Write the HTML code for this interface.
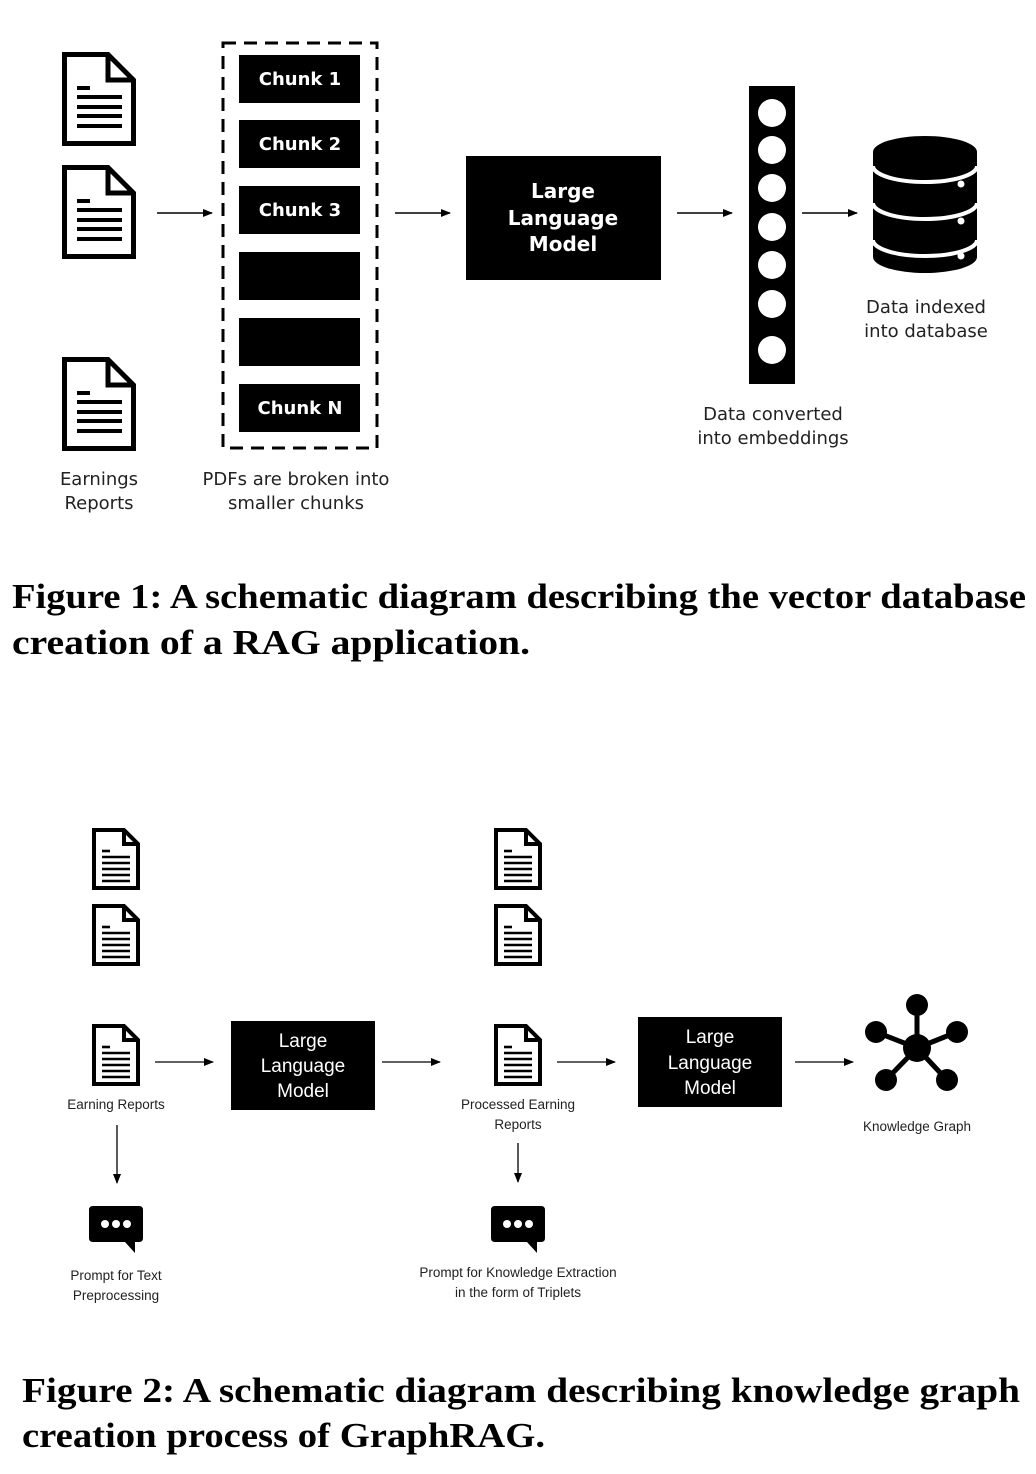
<!DOCTYPE html>
<html><head><meta charset="utf-8"><style>
html,body{margin:0;padding:0;background:#fff;width:1036px;height:1474px;overflow:hidden}
svg{display:block}
.s{font-family:"DejaVu Sans","Liberation Sans",sans-serif;fill:#222}
.cap{font-family:"Liberation Serif",serif;font-weight:bold;font-size:35px;fill:#000}
.w{font-family:"DejaVu Sans","Liberation Sans",sans-serif;font-weight:bold;fill:#fff}
.c{font-family:"Liberation Sans",sans-serif;fill:#222}
.cw{font-family:"Liberation Sans",sans-serif;fill:#fff}
</style></head><body>
<svg width="1036" height="1474" viewBox="0 0 1036 1474" xmlns="http://www.w3.org/2000/svg">
<defs>
<g id="doc">
<path d="M2.5,2.5 H46 L71.5,28 V91.5 H2.5 Z" fill="#fff" stroke="#000" stroke-width="5" stroke-linejoin="miter"/>
<path d="M46,2.5 V28 H71.5" fill="none" stroke="#000" stroke-width="5"/>
<g stroke="#000" stroke-width="4"><line x1="15" y1="36" x2="28" y2="36"/><line x1="15" y1="45" x2="60" y2="45"/><line x1="15" y1="55" x2="60" y2="55"/><line x1="15" y1="64" x2="60" y2="64"/><line x1="15" y1="74" x2="60" y2="74"/></g>
</g>
<g id="doc2">
<path d="M2,2 H32 L46,16 V60 H2 Z" fill="#fff" stroke="#000" stroke-width="4"/>
<path d="M32,2 V16 H46" fill="none" stroke="#000" stroke-width="4"/>
<g stroke="#000" stroke-width="2.6"><line x1="10" y1="23" x2="18" y2="23"/><line x1="10" y1="29" x2="38" y2="29"/><line x1="10" y1="35" x2="38" y2="35"/><line x1="10" y1="41" x2="38" y2="41"/><line x1="10" y1="47" x2="38" y2="47"/><line x1="10" y1="53" x2="38" y2="53"/></g>
</g>
<marker id="ah" markerWidth="10" markerHeight="8" refX="9" refY="4" orient="auto" markerUnits="userSpaceOnUse"><path d="M0,0 L10,4 L0,8 Z" fill="#000"/></marker>
<g id="chat"><path d="M4,0 H50 Q54,0 54,4 V32 Q54,36 50,36 H46 V47 L36,36 H4 Q0,36 0,32 V4 Q0,0 4,0 Z" fill="#000"/><circle cx="16" cy="18" r="4" fill="#fff"/><circle cx="27" cy="18" r="4" fill="#fff"/><circle cx="38" cy="18" r="4" fill="#fff"/></g>
</defs>

<!-- Figure 1 -->
<use href="#doc" x="62" y="52"/>
<use href="#doc" x="62" y="165"/>
<use href="#doc" x="62" y="357"/>
<text class="s" font-size="18" text-anchor="middle" x="99" y="485">Earnings</text>
<text class="s" font-size="18" text-anchor="middle" x="99" y="509">Reports</text>

<line x1="157" y1="213" x2="212" y2="213" stroke="#000" stroke-width="1.5" marker-end="url(#ah)"/>
<rect x="223" y="43" width="154" height="405" fill="none" stroke="#000" stroke-width="3" stroke-dasharray="13,8"/>
<rect x="239" y="55" width="121" height="48" fill="#000"/>
<rect x="239" y="120" width="121" height="48" fill="#000"/>
<rect x="239" y="186" width="121" height="48" fill="#000"/>
<rect x="239" y="252" width="121" height="48" fill="#000"/>
<rect x="239" y="318" width="121" height="48" fill="#000"/>
<rect x="239" y="384" width="121" height="48" fill="#000"/>
<text class="w" font-size="18" text-anchor="middle" x="300" y="85">Chunk 1</text>
<text class="w" font-size="18" text-anchor="middle" x="300" y="150">Chunk 2</text>
<text class="w" font-size="18" text-anchor="middle" x="300" y="216">Chunk 3</text>
<text class="w" font-size="18" text-anchor="middle" x="300" y="414">Chunk N</text>
<text class="s" font-size="18" text-anchor="middle" x="296" y="485">PDFs are broken into</text>
<text class="s" font-size="18" text-anchor="middle" x="296" y="509">smaller chunks</text>

<line x1="395" y1="213" x2="450" y2="213" stroke="#000" stroke-width="1.5" marker-end="url(#ah)"/>
<rect x="466" y="156" width="195" height="124" fill="#000"/>
<text class="w" font-size="20" text-anchor="middle" x="563" y="198">Large</text>
<text class="w" font-size="20" text-anchor="middle" x="563" y="225">Language</text>
<text class="w" font-size="20" text-anchor="middle" x="563" y="251">Model</text>

<line x1="677" y1="213" x2="732" y2="213" stroke="#000" stroke-width="1.5" marker-end="url(#ah)"/>
<rect x="749" y="86" width="46" height="298" fill="#000"/>
<g fill="#fff"><circle cx="772" cy="113" r="14"/><circle cx="772" cy="150" r="14"/><circle cx="772" cy="188" r="14"/><circle cx="772" cy="227" r="14"/><circle cx="772" cy="265" r="14"/><circle cx="772" cy="304" r="14"/><circle cx="772" cy="350" r="14"/></g>
<text class="s" font-size="18" text-anchor="middle" x="773" y="420">Data converted</text>
<text class="s" font-size="18" text-anchor="middle" x="773" y="444">into embeddings</text>

<line x1="802" y1="213" x2="857" y2="213" stroke="#000" stroke-width="1.5" marker-end="url(#ah)"/>
<!-- database -->
<g>
<path d="M873,152 A52,16 0 0 1 977,152 V257 A52,16 0 0 1 873,257 Z" fill="#000"/>
<path d="M873,166 A52,16 0 0 0 977,166" fill="none" stroke="#fff" stroke-width="4"/>
<path d="M873,203 A52,16 0 0 0 977,203" fill="none" stroke="#fff" stroke-width="4"/>
<path d="M873,240 A52,16 0 0 0 977,240" fill="none" stroke="#fff" stroke-width="4"/>
<circle cx="961" cy="184" r="3.5" fill="#fff"/><circle cx="961" cy="221" r="3.5" fill="#fff"/><circle cx="961" cy="256" r="3.5" fill="#fff"/>
</g>
<text class="s" font-size="18" text-anchor="middle" x="926" y="313">Data indexed</text>
<text class="s" font-size="18" text-anchor="middle" x="926" y="337">into database</text>

<text class="cap" x="12" y="608" textLength="1014" lengthAdjust="spacingAndGlyphs">Figure 1: A schematic diagram describing the vector database</text>
<text class="cap" x="12" y="654" textLength="518" lengthAdjust="spacingAndGlyphs">creation of a RAG application.</text>

<!-- Figure 2 -->
<use href="#doc2" x="92" y="828"/>
<use href="#doc2" x="92" y="904"/>
<use href="#doc2" x="92" y="1024"/>
<use href="#doc2" x="494" y="828"/>
<use href="#doc2" x="494" y="904"/>
<use href="#doc2" x="494" y="1024"/>
<text class="c" font-size="13.5" text-anchor="middle" x="116" y="1109">Earning Reports</text>
<line x1="155" y1="1062" x2="213" y2="1062" stroke="#000" stroke-width="1.3" marker-end="url(#ah)"/>
<rect x="231" y="1021" width="144" height="89" fill="#000"/>
<text class="cw" font-size="19" text-anchor="middle" x="303" y="1047">Large</text>
<text class="cw" font-size="19" text-anchor="middle" x="303" y="1072">Language</text>
<text class="cw" font-size="19" text-anchor="middle" x="303" y="1097">Model</text>
<line x1="382" y1="1062" x2="440" y2="1062" stroke="#000" stroke-width="1.3" marker-end="url(#ah)"/>
<text class="c" font-size="13.5" text-anchor="middle" x="518" y="1109">Processed Earning</text>
<text class="c" font-size="13.5" text-anchor="middle" x="518" y="1129">Reports</text>
<line x1="557" y1="1062" x2="615" y2="1062" stroke="#000" stroke-width="1.3" marker-end="url(#ah)"/>
<rect x="638" y="1017" width="144" height="90" fill="#000"/>
<text class="cw" font-size="19" text-anchor="middle" x="710" y="1043">Large</text>
<text class="cw" font-size="19" text-anchor="middle" x="710" y="1069">Language</text>
<text class="cw" font-size="19" text-anchor="middle" x="710" y="1094">Model</text>
<line x1="795" y1="1062" x2="853" y2="1062" stroke="#000" stroke-width="1.3" marker-end="url(#ah)"/>
<!-- graph -->
<g stroke="#000" stroke-width="5">
<line x1="917" y1="1048" x2="917" y2="1005"/><line x1="917" y1="1048" x2="876" y2="1032"/><line x1="917" y1="1048" x2="957" y2="1032"/><line x1="917" y1="1048" x2="886" y2="1080"/><line x1="917" y1="1048" x2="947" y2="1080"/>
</g>
<g fill="#000"><circle cx="917" cy="1048" r="14"/><circle cx="917" cy="1005" r="11"/><circle cx="876" cy="1032" r="11"/><circle cx="957" cy="1032" r="11"/><circle cx="886" cy="1080" r="11"/><circle cx="947" cy="1080" r="11"/></g>
<text class="c" font-size="13.5" text-anchor="middle" x="917" y="1131">Knowledge Graph</text>

<line x1="117" y1="1125" x2="117" y2="1183" stroke="#000" stroke-width="1.3" marker-end="url(#ah)"/>
<line x1="518" y1="1143" x2="518" y2="1182" stroke="#000" stroke-width="1.3" marker-end="url(#ah)"/>
<use href="#chat" x="89" y="1206"/>
<use href="#chat" x="491" y="1206"/>
<text class="c" font-size="13.5" text-anchor="middle" x="116" y="1280">Prompt for Text</text>
<text class="c" font-size="13.5" text-anchor="middle" x="116" y="1300">Preprocessing</text>
<text class="c" font-size="13.5" text-anchor="middle" x="518" y="1277">Prompt for Knowledge Extraction</text>
<text class="c" font-size="13.5" text-anchor="middle" x="518" y="1297">in the form of Triplets</text>

<text class="cap" x="22" y="1402" textLength="998" lengthAdjust="spacingAndGlyphs">Figure 2: A schematic diagram describing knowledge graph</text>
<text class="cap" x="22" y="1447" textLength="523" lengthAdjust="spacingAndGlyphs">creation process of GraphRAG.</text>
</svg>
</body></html>
